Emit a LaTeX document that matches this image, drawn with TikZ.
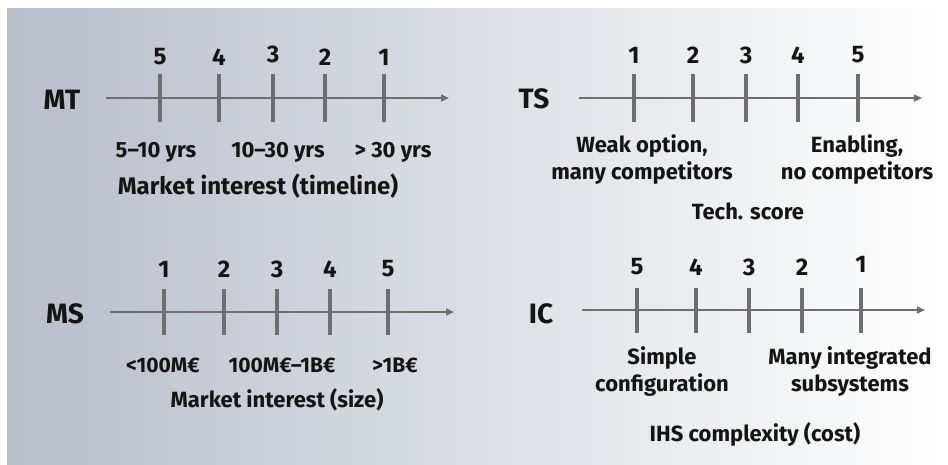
\documentclass[tikz,border=0pt]{standalone}
\usepackage{fontspec}
\setmainfont{Fira Sans}
\usetikzlibrary{arrows.meta}
\definecolor{bgL}{HTML}{B7BECA}
\definecolor{bgM}{HTML}{DCDFE5}
\definecolor{linegray}{HTML}{6E6E70}
\definecolor{txt}{HTML}{141414}
\tikzset{
  axisline/.style={draw=linegray, line width=2.6pt, -{Triangle[length=8pt,width=7pt]}},
  tickline/.style={draw=linegray, line width=3.6pt},
  head/.style={text=txt, font=\bfseries\fontsize{28}{30}\selectfont, inner sep=0pt},
  num/.style={text=txt, font=\bfseries\fontsize{24}{26}\selectfont, inner sep=0pt},
  lbl/.style={text=txt, font=\bfseries\fontsize{22}{27}\selectfont, inner sep=0pt, align=center},
  big/.style={text=txt, font=\bfseries\fontsize{24}{27}\selectfont, inner sep=0pt},
  sml/.style={text=txt, font=\bfseries\fontsize{21}{24}\selectfont, inner sep=0pt},
}
\begin{document}
\begin{tikzpicture}[x=1pt,y=-1pt]
\useasboundingbox (0,0) rectangle (948,465);
\fill[white] (0,0) rectangle (948,465);
\shade[left color=bgL, middle color=bgM, right color=white] (7,9) rectangle (948,465);

% ---------- MT ----------
\node[head] (mt) at (62,100) {MT};
\coordinate (mta) at (106,98);
\coordinate (mtb) at (449,98);
\draw[axisline] (mta) -- (mtb);
\foreach \x/\n/\y [count=\i] in {160/5/57,219/4/57,273/3/54,325/2/57,384/1/57}{
  \coordinate (mtt\i) at (\x,74);
  \coordinate (mtu\i) at (\x,122);
  \draw[tickline] (mtt\i) -- (mtu\i);
  \node[num] (mtn\i) at (\x,\y) {\n};
}
\node[lbl] (mtl1) at (156,152) {5–10 yrs};
\node[lbl] (mtl2) at (278,152) {10–30 yrs};
\node[lbl] (mtl3) at (393,152) {> 30 yrs};
\node[big] (mtt) at (258,186) {Market interest (timeline)};

% ---------- TS ----------
\node[head] (ts) at (534,99) {TS};
\coordinate (tsa) at (579,98);
\coordinate (tsb) at (922,98);
\draw[axisline] (tsa) -- (tsb);
\foreach \x/\n [count=\i] in {634/1,693/2,746/3,798/4,858/5}{
  \coordinate (tst\i) at (\x,74);
  \coordinate (tsu\i) at (\x,122);
  \draw[tickline] (tst\i) -- (tsu\i);
  \node[num] (tsn\i) at (\x,55) {\n};
}
\node[lbl] (tsl1) at (642,160) {Weak option,\\many competitors};
\node[lbl] (tsl2) at (857,160) {Enabling,\\no competitors};
\node[lbl] (tst) at (748,211) {Tech. score};

% ---------- MS ----------
\node[head] (ms) at (65,314) {MS};
\coordinate (msa) at (110,312);
\coordinate (msb) at (454,312);
\draw[axisline] (msa) -- (msb);
\foreach \x/\n [count=\i] in {164/1,224/2,277/3,330/4,388/5}{
  \coordinate (mst\i) at (\x,289);
  \coordinate (msu\i) at (\x,335);
  \draw[tickline] (mst\i) -- (msu\i);
  \node[num] (msn\i) at (\x,269) {\n};
}
\node[sml] (msl1) at (163,365) {<100M€};
\node[sml] (msl2) at (282,365) {100M€–1B€};
\node[sml] (msl3) at (395,365) {>1B€};
\node[lbl] (mst) at (277,400) {Market interest (size)};

% ---------- IC ----------
\node[head] (ic) at (541,314) {IC};
\coordinate (ica) at (582,310);
\coordinate (icb) at (925,310);
\draw[axisline] (ica) -- (icb);
\foreach \x/\n/\y [count=\i] in {637/5/267,696/4/267,749/3/267,802/2/267,861/1/264}{
  \coordinate (ict\i) at (\x,288);
  \coordinate (icu\i) at (\x,333);
  \draw[tickline] (ict\i) -- (icu\i);
  \node[num] (icn\i) at (\x,\y) {\n};
}
\node[lbl] (icl1) at (662,372) {Simple\\configuration};
\node[lbl] (icl2) at (850,372) {Many integrated\\subsystems};
\node[lbl] (ict) at (755,434) {IHS complexity (cost)};
\end{tikzpicture}
\end{document}
